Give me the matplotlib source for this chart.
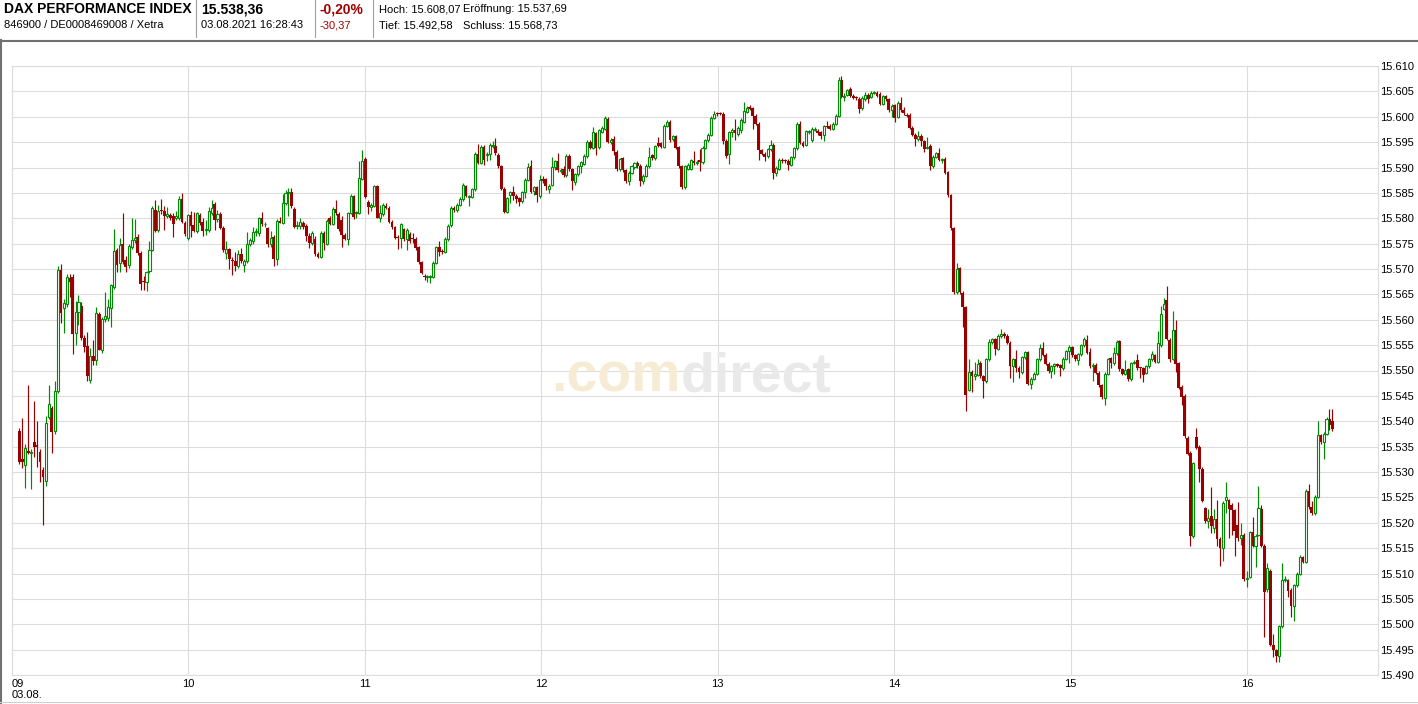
import numpy as np
import matplotlib.pyplot as plt
from matplotlib.lines import Line2D

plt.rcParams['font.family'] = ['Liberation Sans', 'DejaVu Sans']

W, H = 1418, 704

# 1-minute candles, DAX Performance Index, Xetra, 03.08.2021 09:02 - 16:28
opens = [
    # 09:xx
    15538.0, 15532.5, 15531.3, 15534.2, 15533.8, 15536.0, 15535.3, 15534.0, 15530.4, 15528.3,
    15540.9, 15542.6, 15538.1, 15545.9, 15569.9, 15562.3, 15563.2, 15568.3, 15568.4, 15557.4,
    15561.6, 15562.7, 15556.4, 15554.9, 15548.1, 15552.9, 15552.0, 15561.1, 15554.0, 15560.1,
    15560.3, 15562.3, 15566.4, 15573.8, 15571.1, 15574.9, 15571.7, 15570.7, 15574.4, 15575.8,
    15576.4, 15573.2, 15567.7, 15567.4, 15569.6, 15573.7, 15581.7, 15577.6, 15581.7, 15581.5,
    15580.4, 15580.7, 15580.5, 15580.0, 15580.0, 15583.8, 15579.1,
    # 10:xx
    15576.2, 15580.6, 15578.7, 15577.4, 15580.6, 15579.3, 15577.6, 15577.6, 15581.1, 15582.9,
    15579.8, 15580.9, 15578.1, 15573.1, 15573.9, 15571.7, 15571.5, 15570.6, 15572.9, 15570.8,
    15571.6, 15575.0, 15575.5, 15577.3, 15577.0, 15580.0, 15578.8, 15578.0, 15575.0, 15576.3,
    15571.9, 15579.5, 15579.1, 15583.0, 15584.9, 15585.2, 15581.9, 15578.5, 15578.5, 15579.1,
    15578.5, 15576.6, 15575.2, 15576.0, 15572.9, 15572.4, 15577.0, 15575.0, 15580.0, 15578.9,
    15581.9, 15580.9, 15579.6, 15576.7, 15576.0, 15581.1, 15584.4, 15581.0, 15581.1,
    # 11:xx
    15587.8, 15591.7, 15583.3, 15582.3, 15582.5, 15586.3, 15580.1, 15580.8, 15582.5, 15582.1,
    15579.3, 15578.2, 15576.4, 15576.1, 15577.8, 15575.9, 15576.9, 15576.1, 15575.9, 15574.3,
    15571.3, 15568.7, 15568.4, 15568.5, 15568.5, 15571.2, 15574.4, 15573.6, 15573.4, 15575.9,
    15578.6, 15582.1, 15581.6, 15582.7, 15583.7, 15586.3, 15584.2, 15584.2, 15585.7, 15592.7,
    15590.9, 15594.1, 15592.5, 15592.6, 15594.3, 15594.3, 15592.5, 15590.2, 15585.8, 15581.3,
    15584.5, 15585.2, 15584.4, 15583.9, 15583.4, 15585.1, 15587.6, 15590.2, 15585.3, 15586.1,
    # 12:xx
    15584.4, 15587.7, 15587.7, 15585.8, 15586.6, 15590.1, 15591.2, 15589.4, 15589.8, 15588.5,
    15592.3, 15589.7, 15587.1, 15588.7, 15590.2, 15590.7, 15592.2, 15595.1, 15593.9, 15596.7,
    15594.0, 15597.0, 15597.6, 15599.6, 15595.1, 15595.7, 15593.1, 15589.7, 15591.8, 15589.5,
    15587.3, 15589.0, 15590.1, 15590.8, 15590.3, 15587.4, 15588.4, 15590.3, 15592.4, 15591.8,
    15594.8, 15594.8, 15594.1, 15598.2, 15599.0, 15595.6, 15596.2, 15594.0, 15590.2, 15586.1,
    15589.8, 15589.8, 15591.3, 15590.8, 15591.4, 15591.0, 15593.9, 15595.4, 15596.5, 15599.8,
    # 13:xx
    15600.7, 15600.7, 15600.6, 15595.3, 15592.7, 15596.9, 15597.4, 15596.6, 15597.4, 15599.0,
    15601.0, 15601.9, 15601.7, 15600.2, 15598.6, 15593.4, 15592.7, 15592.2, 15593.6, 15594.5,
    15588.9, 15589.8, 15591.5, 15591.4, 15591.3, 15590.5, 15592.0, 15593.8, 15598.6, 15594.9,
    15594.5, 15596.9, 15595.4, 15597.4, 15597.2, 15596.9, 15596.4, 15598.2, 15598.2, 15597.6,
    15598.6, 15600.2, 15607.2, 15603.9, 15604.3, 15605.5, 15604.1, 15603.8, 15603.5, 15601.7,
    15603.5, 15604.3, 15603.9, 15604.7, 15604.7, 15604.5, 15602.6, 15604.0, 15603.4, 15601.3,
    # 14:xx
    15602.3, 15600.0, 15602.8, 15601.3, 15600.4, 15600.4, 15597.8, 15596.5, 15595.6, 15596.3,
    15595.2, 15593.9, 15594.3, 15590.3, 15592.1, 15592.8, 15591.5, 15591.7, 15589.1, 15584.5,
    15578.0, 15565.4, 15570.1, 15565.3, 15562.5, 15546.2, 15549.8, 15549.0, 15549.2, 15551.5,
    15548.9, 15547.9, 15552.2, 15555.6, 15556.2, 15554.3, 15556.8, 15557.2, 15556.8, 15555.5,
    15550.9, 15552.3, 15550.5, 15549.7, 15552.6, 15553.6, 15547.4, 15548.4, 15549.4, 15552.2,
    15554.5, 15553.1, 15551.3, 15549.9, 15550.8, 15551.2, 15551.0, 15550.4, 15552.3, 15553.8,
    # 15:xx
    15554.6, 15553.0, 15552.0, 15553.2, 15555.0, 15556.1, 15553.6, 15550.8, 15551.1, 15549.6,
    15547.1, 15544.5, 15549.4, 15552.4, 15551.4, 15553.4, 15555.8, 15550.2, 15549.4, 15550.2,
    15548.3, 15551.4, 15552.0, 15550.5, 15550.4, 15549.6, 15550.8, 15552.2, 15553.0, 15551.7,
    15555.0, 15562.2, 15563.8, 15556.1, 15552.3, 15557.9, 15551.4, 15546.8, 15545.0, 15536.7,
    15533.8, 15517.3, 15536.9, 15535.0, 15530.6, 15522.9, 15520.3, 15521.4, 15518.9, 15520.7,
    15516.8, 15515.1, 15524.5, 15524.4, 15523.5, 15522.5, 15519.5, 15517.0, 15517.6, 15509.0,
    # 16:xx
    15509.4, 15518.1, 15515.5, 15517.6, 15522.8, 15515.5, 15506.9, 15510.5, 15496.0, 15494.9,
    15493.7, 15499.6, 15508.7, 15508.7, 15506.8, 15503.5, 15507.7, 15510.0, 15513.2, 15512.3,
    15526.3, 15523.2, 15521.9, 15525.1, 15537.2, 15535.9, 15537.5, 15540.5, 15540.0,
]

highs = [
    15538.7, 15540.7, 15535.5, 15547.2, 15534.5, 15544.0, 15540.0, 15534.5, 15531.0, 15541.0,
    15547.2, 15543.0, 15548.0, 15570.6, 15571.0, 15564.0, 15569.0, 15569.0, 15569.0, 15563.7,
    15564.9, 15563.5, 15557.0, 15557.5, 15554.5, 15556.0, 15562.6, 15561.5, 15560.5, 15565.5,
    15564.0, 15567.0, 15577.8, 15574.2, 15576.2, 15581.0, 15572.5, 15575.0, 15580.0, 15579.8,
    15576.8, 15573.5, 15568.7, 15569.6, 15575.5, 15582.4, 15583.6, 15582.6, 15583.8, 15582.5,
    15582.3, 15581.0, 15581.0, 15581.4, 15584.4, 15584.9, 15579.5,
    15580.8, 15581.4, 15581.3, 15581.3, 15581.0, 15580.1, 15579.6, 15582.3, 15583.5, 15583.3,
    15581.6, 15581.3, 15578.4, 15575.5, 15574.2, 15572.4, 15573.4, 15573.8, 15574.1, 15571.9,
    15577.3, 15576.2, 15578.3, 15578.0, 15580.2, 15581.3, 15579.2, 15578.3, 15577.5, 15576.7,
    15579.8, 15580.2, 15584.7, 15585.5, 15586.0, 15586.0, 15582.2, 15579.5, 15580.0, 15579.5,
    15578.8, 15577.0, 15577.4, 15576.5, 15573.3, 15577.4, 15577.5, 15579.8, 15580.4, 15582.2,
    15583.5, 15581.3, 15580.4, 15577.1, 15581.3, 15584.7, 15584.6, 15581.5, 15591.3,
    15593.4, 15592.0, 15583.6, 15583.0, 15586.5, 15586.6, 15582.7, 15583.0, 15583.0, 15582.4,
    15579.6, 15578.5, 15576.7, 15579.0, 15578.1, 15578.0, 15577.2, 15577.0, 15576.3, 15574.6,
    15571.6, 15569.0, 15568.9, 15568.9, 15571.5, 15574.6, 15575.6, 15574.0, 15576.3, 15578.8,
    15582.4, 15582.4, 15583.0, 15584.1, 15586.9, 15586.6, 15584.6, 15586.0, 15593.0, 15594.6,
    15594.4, 15594.4, 15593.0, 15594.8, 15595.3, 15595.9, 15592.8, 15590.5, 15586.1, 15584.2,
    15585.4, 15586.3, 15584.7, 15584.2, 15585.4, 15587.9, 15590.9, 15591.4, 15586.4, 15586.4,
    15588.5, 15588.4, 15588.0, 15586.8, 15592.1, 15591.5, 15592.9, 15590.0, 15590.2, 15592.6,
    15592.6, 15590.0, 15589.0, 15590.5, 15591.3, 15592.6, 15595.4, 15595.4, 15598.0, 15597.0,
    15597.6, 15598.1, 15600.1, 15599.9, 15595.9, 15596.2, 15593.4, 15591.9, 15592.1, 15589.8,
    15589.3, 15590.5, 15591.1, 15591.3, 15590.6, 15588.7, 15590.6, 15594.0, 15592.7, 15594.5,
    15596.1, 15595.1, 15598.5, 15599.3, 15599.3, 15596.5, 15596.5, 15594.3, 15590.5, 15590.5,
    15590.8, 15591.7, 15593.3, 15591.5, 15593.7, 15594.2, 15595.7, 15596.8, 15600.1, 15601.2,
    15601.0, 15601.0, 15600.9, 15595.6, 15597.2, 15597.7, 15599.6, 15598.1, 15599.7, 15603.0,
    15602.1, 15602.4, 15602.0, 15600.5, 15598.9, 15593.7, 15593.0, 15593.9, 15595.4, 15594.8,
    15590.2, 15591.8, 15591.8, 15591.6, 15591.6, 15592.3, 15594.1, 15598.9, 15599.1, 15595.2,
    15597.4, 15597.4, 15597.9, 15597.9, 15597.5, 15597.2, 15598.4, 15599.1, 15598.5, 15598.9,
    15600.5, 15607.8, 15608.1, 15604.7, 15605.5, 15605.8, 15604.4, 15604.1, 15603.8, 15604.0,
    15604.9, 15604.6, 15605.0, 15605.1, 15605.0, 15604.8, 15604.3, 15604.3, 15603.7, 15602.5,
    15602.6, 15603.1, 15603.8, 15601.9, 15600.7, 15600.7, 15598.1, 15596.8, 15597.1, 15596.6,
    15595.5, 15596.0, 15594.6, 15592.4, 15593.1, 15593.8, 15591.9, 15592.0, 15589.4, 15584.8,
    15578.3, 15571.2, 15570.4, 15565.6, 15562.8, 15552.2, 15550.1, 15551.7, 15552.3, 15551.8,
    15549.2, 15552.5, 15556.3, 15556.5, 15556.5, 15557.1, 15558.1, 15557.5, 15557.1, 15555.8,
    15552.5, 15554.0, 15550.8, 15552.9, 15553.9, 15553.9, 15548.7, 15549.7, 15552.5, 15555.3,
    15555.6, 15553.4, 15551.6, 15551.1, 15551.5, 15551.5, 15551.3, 15552.6, 15554.1, 15555.0,
    15554.9, 15553.3, 15553.5, 15555.3, 15556.6, 15556.9, 15554.5, 15551.4, 15551.4, 15549.9,
    15547.4, 15549.7, 15552.5, 15552.7, 15554.7, 15556.0, 15556.1, 15550.5, 15552.1, 15550.5,
    15551.7, 15552.0, 15553.2, 15550.7, 15550.7, 15551.1, 15552.5, 15553.8, 15553.3, 15557.8,
    15562.8, 15564.2, 15566.6, 15556.4, 15561.8, 15559.9, 15551.7, 15547.1, 15545.3, 15537.0,
    15534.1, 15532.0, 15538.7, 15535.3, 15530.9, 15523.2, 15522.7, 15527.1, 15522.7, 15524.5,
    15517.1, 15524.2, 15528.0, 15524.7, 15523.8, 15522.8, 15524.0, 15520.0, 15517.9, 15510.5,
    15518.4, 15521.1, 15517.7, 15527.3, 15523.5, 15515.8, 15512.1, 15510.8, 15498.0, 15495.2,
    15499.9, 15512.1, 15509.5, 15509.0, 15507.1, 15508.0, 15510.3, 15513.6, 15513.5, 15526.6,
    15527.7, 15524.3, 15525.4, 15540.0, 15537.5, 15537.8, 15540.8, 15542.4, 15542.4,
]

lows = [
    15531.5, 15530.7, 15526.8, 15533.6, 15526.6, 15533.0, 15531.0, 15528.0, 15519.6, 15527.3,
    15540.5, 15533.8, 15537.5, 15545.5, 15559.4, 15557.4, 15562.5, 15564.5, 15553.2, 15555.0,
    15559.0, 15556.0, 15553.7, 15547.9, 15547.5, 15551.0, 15551.0, 15554.0, 15553.5, 15559.5,
    15559.7, 15558.6, 15566.0, 15569.5, 15569.5, 15571.0, 15569.5, 15570.2, 15574.0, 15575.2,
    15572.8, 15565.9, 15565.9, 15565.7, 15569.2, 15573.5, 15577.2, 15577.2, 15580.8, 15577.6,
    15580.0, 15579.6, 15576.3, 15579.6, 15579.6, 15579.0, 15576.5,
    15575.7, 15576.4, 15577.2, 15577.0, 15578.6, 15576.5, 15576.7, 15577.2, 15580.7, 15577.7,
    15579.3, 15577.8, 15573.4, 15572.0, 15570.0, 15568.8, 15569.7, 15570.2, 15571.2, 15569.5,
    15571.2, 15574.5, 15575.0, 15576.5, 15576.6, 15578.5, 15578.3, 15574.4, 15574.4, 15570.5,
    15570.7, 15579.0, 15578.8, 15582.7, 15580.4, 15582.0, 15578.0, 15577.8, 15577.8, 15577.9,
    15575.6, 15574.2, 15574.8, 15572.6, 15572.2, 15572.1, 15573.8, 15574.8, 15578.6, 15578.6,
    15580.7, 15577.5, 15574.4, 15575.7, 15574.8, 15580.8, 15579.8, 15580.0, 15580.9,
    15587.5, 15584.0, 15580.8, 15581.5, 15582.2, 15580.0, 15579.3, 15580.5, 15581.8, 15579.0,
    15577.9, 15575.9, 15574.0, 15574.2, 15575.5, 15573.8, 15575.2, 15575.2, 15573.8, 15571.0,
    15569.0, 15567.8, 15567.5, 15567.3, 15568.2, 15570.9, 15572.6, 15573.0, 15573.1, 15575.6,
    15578.3, 15581.3, 15581.3, 15582.4, 15583.4, 15584.1, 15582.4, 15583.9, 15585.4, 15590.6,
    15590.6, 15590.5, 15591.2, 15591.4, 15593.9, 15592.5, 15589.9, 15585.5, 15581.0, 15581.0,
    15583.0, 15583.6, 15583.0, 15582.4, 15583.1, 15584.0, 15587.3, 15585.0, 15584.6, 15583.3,
    15584.0, 15587.0, 15585.5, 15585.0, 15586.3, 15589.5, 15589.2, 15589.0, 15588.2, 15588.2,
    15589.4, 15585.5, 15586.5, 15588.4, 15589.0, 15590.4, 15591.9, 15593.6, 15593.6, 15592.5,
    15593.7, 15596.7, 15597.3, 15594.8, 15594.7, 15592.5, 15589.4, 15589.4, 15589.2, 15587.0,
    15586.5, 15588.7, 15589.8, 15590.0, 15586.4, 15586.8, 15588.1, 15590.0, 15591.5, 15591.5,
    15594.0, 15593.8, 15593.8, 15597.9, 15595.1, 15595.3, 15593.6, 15589.9, 15585.8, 15585.8,
    15589.5, 15589.5, 15590.5, 15590.5, 15589.4, 15590.7, 15593.6, 15595.1, 15596.2, 15599.5,
    15600.2, 15600.3, 15594.6, 15591.9, 15590.6, 15596.0, 15595.5, 15596.3, 15596.8, 15598.7,
    15600.7, 15601.3, 15597.5, 15598.3, 15591.5, 15592.4, 15591.3, 15591.9, 15593.3, 15587.7,
    15588.3, 15589.5, 15590.9, 15590.9, 15589.5, 15590.2, 15591.7, 15593.5, 15594.6, 15594.0,
    15594.2, 15596.6, 15595.1, 15597.1, 15596.5, 15595.6, 15595.3, 15597.7, 15597.3, 15597.3,
    15598.3, 15599.9, 15603.6, 15603.2, 15604.0, 15603.8, 15603.4, 15603.3, 15600.7, 15601.4,
    15603.2, 15602.8, 15603.6, 15604.4, 15603.8, 15602.3, 15602.3, 15603.1, 15601.0, 15600.0,
    15599.0, 15599.7, 15601.0, 15600.4, 15599.9, 15597.5, 15596.2, 15594.3, 15595.3, 15594.3,
    15593.0, 15593.6, 15589.6, 15590.0, 15591.8, 15591.2, 15590.8, 15588.7, 15584.2, 15577.7,
    15565.1, 15565.1, 15565.1, 15558.5, 15542.0, 15545.9, 15545.8, 15548.2, 15548.9, 15548.6,
    15544.6, 15547.6, 15551.9, 15555.3, 15553.0, 15554.0, 15556.5, 15556.5, 15555.2, 15548.6,
    15547.7, 15549.8, 15548.5, 15549.4, 15552.3, 15547.1, 15546.4, 15548.1, 15549.1, 15551.9,
    15552.8, 15551.0, 15549.6, 15548.6, 15549.3, 15550.6, 15549.0, 15550.1, 15552.0, 15551.5,
    15552.6, 15551.8, 15551.0, 15552.9, 15554.7, 15553.2, 15550.5, 15548.0, 15549.3, 15546.8,
    15544.4, 15543.3, 15549.1, 15550.5, 15551.1, 15553.1, 15549.9, 15549.1, 15549.1, 15548.0,
    15548.0, 15551.3, 15550.1, 15548.5, 15547.8, 15549.3, 15550.5, 15551.9, 15551.4, 15551.4,
    15554.7, 15561.9, 15556.0, 15551.6, 15552.0, 15549.8, 15546.3, 15543.2, 15536.7, 15533.3,
    15515.5, 15517.0, 15534.5, 15528.0, 15524.0, 15520.0, 15519.0, 15518.0, 15518.0, 15515.5,
    15511.5, 15512.5, 15522.0, 15517.0, 15517.5, 15513.5, 15516.5, 15515.6, 15508.6, 15507.3,
    15509.1, 15515.2, 15511.3, 15517.3, 15515.2, 15497.5, 15506.4, 15495.7, 15493.5, 15492.6,
    15492.6, 15499.3, 15508.4, 15505.4, 15501.4, 15500.6, 15507.4, 15509.7, 15512.0, 15512.0,
    15522.8, 15521.5, 15521.6, 15524.8, 15535.6, 15532.6, 15537.2, 15538.3, 15538.0,
]

closes = [
    15532.0, 15532.0, 15534.8, 15533.8, 15534.0, 15535.0, 15535.0, 15531.9, 15529.0, 15539.7,
    15543.4, 15537.9, 15545.9, 15569.9, 15561.4, 15563.3, 15568.5, 15567.5, 15557.2, 15561.6,
    15563.4, 15556.4, 15554.7, 15549.0, 15552.9, 15551.9, 15561.3, 15554.0, 15560.1, 15560.7,
    15562.5, 15566.8, 15573.5, 15570.8, 15574.8, 15571.4, 15570.4, 15574.5, 15575.8, 15576.2,
    15573.2, 15567.0, 15567.5, 15569.4, 15573.8, 15582.1, 15577.5, 15581.5, 15581.4, 15580.4,
    15580.9, 15580.1, 15578.9, 15580.4, 15583.8, 15579.3, 15576.8,
    15580.6, 15578.5, 15577.4, 15581.0, 15579.1, 15577.5, 15577.8, 15581.4, 15582.0, 15579.6,
    15580.8, 15578.1, 15573.7, 15574.0, 15571.9, 15571.5, 15570.6, 15572.9, 15571.5, 15571.6,
    15575.0, 15575.7, 15577.3, 15577.4, 15580.0, 15578.8, 15578.9, 15575.0, 15576.2, 15572.0,
    15579.5, 15579.1, 15583.0, 15584.9, 15585.2, 15582.4, 15578.3, 15578.6, 15579.3, 15578.3,
    15576.6, 15575.1, 15577.0, 15572.9, 15572.4, 15577.0, 15575.1, 15579.5, 15578.9, 15581.9,
    15581.0, 15577.8, 15576.7, 15576.0, 15581.1, 15584.4, 15580.2, 15581.2, 15587.9,
    15591.3, 15584.2, 15582.3, 15582.7, 15586.3, 15580.1, 15581.0, 15582.7, 15582.1, 15579.3,
    15578.2, 15576.2, 15576.1, 15578.8, 15575.9, 15577.7, 15575.6, 15576.0, 15574.1, 15571.3,
    15569.2, 15568.4, 15568.5, 15568.6, 15571.2, 15574.3, 15573.4, 15573.4, 15575.9, 15578.5,
    15582.1, 15581.6, 15582.7, 15583.8, 15586.6, 15584.4, 15584.3, 15585.7, 15592.7, 15590.9,
    15594.1, 15591.5, 15592.7, 15594.5, 15594.4, 15592.8, 15590.2, 15585.8, 15581.3, 15583.9,
    15585.1, 15584.4, 15583.7, 15583.3, 15585.1, 15587.6, 15590.0, 15585.2, 15586.1, 15584.5,
    15587.6, 15587.4, 15586.3, 15586.4, 15590.1, 15591.2, 15589.5, 15589.6, 15588.5, 15592.3,
    15589.7, 15587.4, 15588.7, 15590.2, 15591.0, 15592.3, 15595.1, 15593.9, 15597.0, 15593.9,
    15597.3, 15597.8, 15599.7, 15595.1, 15595.4, 15593.3, 15589.7, 15591.6, 15589.5, 15587.3,
    15589.0, 15590.2, 15590.8, 15590.3, 15587.4, 15588.4, 15590.3, 15592.1, 15591.8, 15594.2,
    15594.2, 15594.1, 15598.2, 15599.0, 15595.4, 15596.2, 15593.9, 15590.2, 15586.1, 15590.2,
    15590.5, 15591.4, 15590.8, 15591.1, 15591.0, 15593.9, 15595.4, 15596.5, 15599.8, 15600.6,
    15600.5, 15600.6, 15595.3, 15592.2, 15596.9, 15597.4, 15596.8, 15597.8, 15599.4, 15601.2,
    15601.8, 15601.6, 15600.1, 15598.6, 15593.4, 15592.7, 15592.0, 15593.6, 15594.5, 15588.9,
    15589.9, 15591.5, 15591.2, 15591.2, 15590.5, 15592.0, 15593.8, 15598.6, 15594.9, 15594.3,
    15597.1, 15597.1, 15597.6, 15597.6, 15596.8, 15596.3, 15598.1, 15598.0, 15597.6, 15598.6,
    15600.2, 15607.2, 15603.9, 15604.1, 15605.2, 15604.1, 15603.7, 15603.6, 15601.5, 15603.7,
    15604.3, 15603.4, 15604.7, 15604.8, 15604.1, 15602.6, 15604.0, 15603.4, 15601.3, 15602.2,
    15599.8, 15602.8, 15601.3, 15600.7, 15600.2, 15597.8, 15596.5, 15595.6, 15596.3, 15595.2,
    15593.7, 15594.1, 15590.3, 15592.1, 15592.8, 15591.5, 15591.6, 15589.0, 15584.5, 15578.0,
    15565.4, 15570.0, 15565.4, 15562.5, 15545.2, 15549.8, 15549.0, 15549.3, 15551.2, 15548.9,
    15547.9, 15552.2, 15555.6, 15556.2, 15554.3, 15556.8, 15557.2, 15556.8, 15555.5, 15550.9,
    15552.2, 15550.5, 15549.7, 15552.6, 15553.6, 15547.4, 15548.4, 15549.4, 15552.2, 15554.5,
    15553.1, 15551.3, 15549.9, 15550.8, 15551.2, 15550.9, 15550.5, 15552.3, 15553.8, 15554.7,
    15553.0, 15552.2, 15553.2, 15555.0, 15556.3, 15553.5, 15550.8, 15551.0, 15549.6, 15547.1,
    15544.7, 15549.4, 15552.2, 15551.4, 15553.4, 15555.7, 15550.2, 15549.4, 15550.1, 15548.3,
    15551.4, 15551.6, 15550.4, 15550.4, 15549.1, 15550.8, 15552.2, 15553.2, 15551.7, 15555.5,
    15561.1, 15563.2, 15556.3, 15552.3, 15557.9, 15551.2, 15546.6, 15544.8, 15537.0, 15533.6,
    15517.3, 15531.7, 15534.8, 15530.6, 15524.3, 15520.3, 15520.9, 15519.4, 15520.8, 15516.8,
    15515.1, 15523.9, 15525.1, 15522.8, 15522.5, 15518.3, 15517.0, 15517.6, 15508.9, 15509.2,
    15518.1, 15515.5, 15517.4, 15523.0, 15515.5, 15506.4, 15511.0, 15496.0, 15494.9, 15493.7,
    15499.6, 15508.7, 15508.9, 15506.6, 15503.5, 15507.7, 15510.0, 15513.3, 15512.3, 15526.3,
    15523.1, 15521.9, 15525.1, 15537.2, 15535.9, 15537.5, 15540.5, 15539.3, 15538.4,
]

hour_labels = ["09\n03.08.", "10", "11", "12", "13", "14", "15", "16"]
price_ticks = list(range(15490, 15611, 5))

header_left = [
    ("DAX PERFORMANCE INDEX", "846900 / DE0008469008 / Xetra"),
    ("15.538,36", "03.08.2021 16:28:43"),
]
change_pct = "-0,20%"
change_abs = "-30,37"
stats_row1 = ["Hoch: 15.608,07", "Eröffnung: 15.537,69"]
stats_row2 = ["Tief: 15.492,58", "Schluss: 15.568,73"]

RED = "#990000"
GREEN = "#008a00"
GRID = "#dcdcdc"

o = np.array(opens)
h = np.array(highs)
l = np.array(lows)
c = np.array(closes)
n = len(c)
# minutes after 09:00, first candle ~09:02, last one 16:29
x = 2.5 + np.arange(n) * (449.0 - 2.5) / (n - 1)
up = c >= o

fig = plt.figure(figsize=(W / 100, H / 100), dpi=100)
ax = fig.add_axes([12 / W, 29 / H, 1366 / W, 609 / H])

ax.vlines(x[up], l[up], h[up], color=GREEN, lw=0.85, zorder=2)
ax.vlines(x[~up], l[~up], h[~up], color=RED, lw=0.85, zorder=2)
ax.bar(x[~up], np.maximum(o[~up] - c[~up], 0.2), bottom=c[~up], width=0.95,
       color=RED, linewidth=0, zorder=3)
ax.bar(x[up], np.maximum(c[up] - o[up], 0.15), bottom=o[up], width=0.7,
       facecolor="white", edgecolor=GREEN, linewidth=0.8, zorder=3)

ax.set_xlim(0, 464.5)
ax.set_ylim(15490, 15610)

ax.set_xticks(np.arange(0, 421, 60))
ax.set_xticklabels(hour_labels, ha="center", va="top", fontsize=8, linespacing=1.05)
first = ax.get_xticklabels()[0]
first.set_horizontalalignment("left")
first.set_multialignment("left")
ax.yaxis.tick_right()
ax.set_yticks(price_ticks)
ax.set_yticklabels([f"{v:,}".replace(",", ".") for v in price_ticks], fontsize=8)
ax.tick_params(axis="both", length=0, colors="black")
ax.tick_params(axis="x", pad=3)
ax.tick_params(axis="y", pad=1.5)
ax.grid(True, color=GRID, lw=0.8, zorder=0)
ax.set_axisbelow(True)
for s in ax.spines.values():
    s.set_color(GRID)
    s.set_linewidth(0.8)

# watermark
wm_x = (681 - 12) / 1366
wm_y = 1 - (392 - 66) / 609
ax.text(wm_x, wm_y, ".com", transform=ax.transAxes, ha="right", va="baseline",
        fontsize=40, fontweight="bold", color="#f6ecd3", zorder=1)
ax.text(wm_x, wm_y, "direct", transform=ax.transAxes, ha="left", va="baseline",
        fontsize=40, fontweight="bold", color="#e9e9e9", zorder=1)


# header
def fx(px):
    return px / W


def fy(py):
    return 1 - py / H


fig.text(fx(4), fy(9), header_left[0][0], fontsize=10, fontweight="bold", va="center")
fig.text(fx(4), fy(25), header_left[0][1], fontsize=8, va="center")
fig.text(fx(201), fy(9), header_left[1][0], fontsize=10, fontweight="bold", va="center")
fig.text(fx(201), fy(25), header_left[1][1], fontsize=8, va="center")
fig.text(fx(320), fy(9), change_pct, fontsize=10, fontweight="bold", va="center", color="#a00000")
fig.text(fx(320), fy(25), change_abs, fontsize=8, va="center", color="#a00000")
fig.text(fx(379), fy(9), stats_row1[0], fontsize=8, va="center")
fig.text(fx(463), fy(9), stats_row1[1], fontsize=8, va="center")
fig.text(fx(379), fy(25), stats_row2[0], fontsize=8, va="center")
fig.text(fx(463), fy(25), stats_row2[1], fontsize=8, va="center")

for sx in (196, 315, 373):
    fig.add_artist(Line2D([fx(sx), fx(sx)], [fy(0), fy(37)], color="#a0a0a0", lw=0.8))
fig.add_artist(Line2D([0, 1], [fy(40.5), fy(40.5)], color="#707070", lw=1.5))
fig.add_artist(Line2D([fx(0.7), fx(0.7)], [fy(40), 0], color="#707070", lw=1.5))
fig.add_artist(Line2D([0, 1], [fy(701.5), fy(701.5)], color="#cfcfcf", lw=0.8))

fig.savefig("out.png", dpi=100, facecolor="white")
